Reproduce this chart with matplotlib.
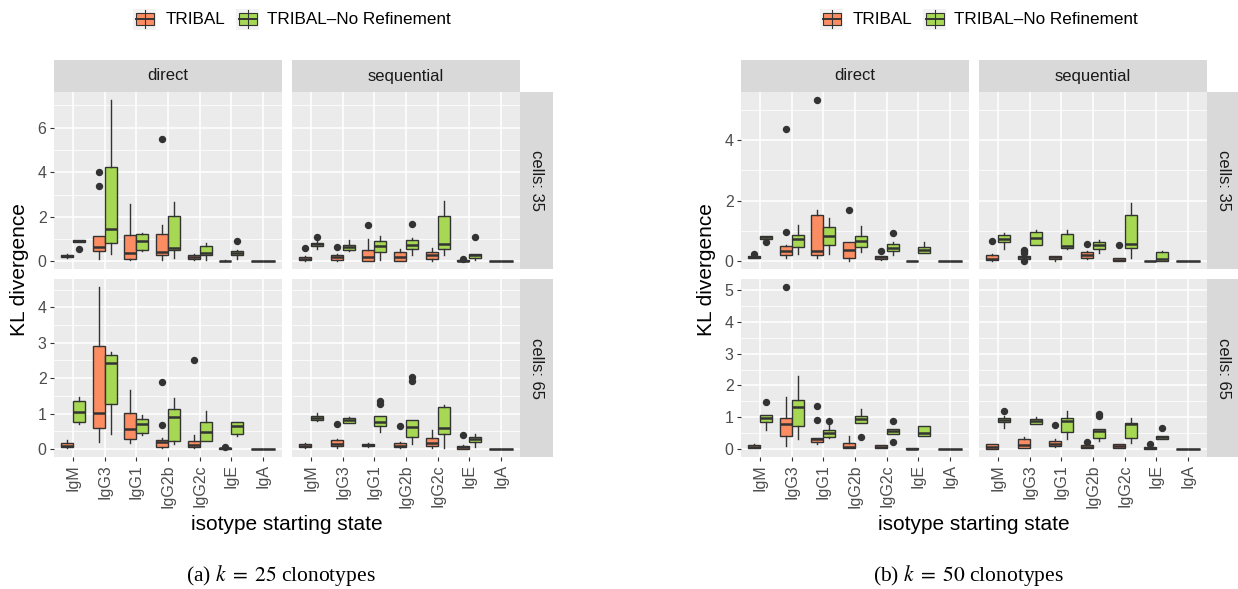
import matplotlib
matplotlib.use("Agg")
import matplotlib.pyplot as plt
from matplotlib.patches import Rectangle
from matplotlib.ticker import MultipleLocator, NullLocator, FixedLocator

plt.rcParams["font.family"] = ["Liberation Sans", "DejaVu Sans"]
plt.rcParams["mathtext.fontset"] = "stix"

W, H = 1238, 589
ORANGE = "#FC8D62"
GREEN = "#A6D854"
EDGE = "#333333"

isotypes = ["IgM", "IgG3", "IgG1", "IgG2b", "IgG2c", "IgE", "IgA"]
methods = ["TRIBAL", "TRIBAL\u2013No Refinement"]

# each entry: (whisker low, q1, median, q3, whisker high, [outliers])
# ---- k = 25 clonotypes ----
k25_d35_tribal = [(0.15, 0.2, 0.25, 0.3, 0.35, []), (0.12, 0.45, 0.65, 1.14, 1.14, [3.40, 4.02]),
                  (0.05, 0.12, 0.39, 1.17, 2.56, []), (0.05, 0.27, 0.44, 1.25, 1.64, [5.5]),
                  (0.05, 0.09, 0.21, 0.29, 0.32, []), (0.0, 0.01, 0.02, 0.03, 0.05, []),
                  (0, 0, 0, 0, 0, [])]
k25_d35_norefine = [(0.88, 0.88, 0.92, 0.97, 0.98, [0.57]), (0.35, 0.84, 1.45, 4.22, 7.24, []),
                    (0.47, 0.51, 0.92, 1.22, 1.28, []), (0.17, 0.51, 0.59, 2.02, 2.65, []),
                    (0.08, 0.29, 0.39, 0.71, 0.83, []), (0.09, 0.29, 0.38, 0.47, 0.51, [0.93]),
                    (0, 0, 0, 0, 0, [])]
k25_s35_tribal = [(0.03, 0.05, 0.12, 0.2, 0.25, [0.6]), (0.03, 0.05, 0.21, 0.3, 0.35, [0.63]),
                  (0.02, 0.02, 0.2, 0.53, 1.02, [1.64]), (0.02, 0.02, 0.2, 0.41, 0.57, []),
                  (0.02, 0.09, 0.3, 0.44, 0.59, []), (0.0, 0.0, 0.02, 0.06, 0.08, [0.12]),
                  (0, 0, 0, 0, 0, [])]
k25_s35_norefine = [(0.57, 0.68, 0.77, 0.84, 0.9, [1.08]), (0.47, 0.5, 0.65, 0.75, 0.98, []),
                    (0.05, 0.42, 0.68, 0.92, 1.13, []), (0.3, 0.54, 0.72, 0.95, 1.07, [1.66]),
                    (0.3, 0.57, 0.8, 2.02, 2.71, []), (0.05, 0.14, 0.27, 0.35, 0.35, [1.1]),
                    (0, 0, 0, 0, 0, [])]
k25_d65_tribal = [(0.02, 0.04, 0.09, 0.18, 0.26, []), (0.19, 0.59, 1.02, 2.91, 4.57, []),
                  (0.17, 0.27, 0.56, 1.01, 1.66, []), (0.02, 0.05, 0.19, 0.26, 0.3, [0.68, 1.89]),
                  (0.02, 0.05, 0.11, 0.22, 0.38, [2.5]), (0.0, 0.01, 0.02, 0.03, 0.04, [0.05]),
                  (0, 0, 0, 0, 0, [])]
k25_d65_norefine = [(0.71, 0.76, 1.04, 1.34, 1.48, []), (0.43, 1.28, 2.42, 2.64, 2.73, []),
                    (0.39, 0.45, 0.69, 0.85, 0.97, []), (0.14, 0.21, 0.9, 1.13, 1.44, []),
                    (0.22, 0.22, 0.47, 0.77, 1.07, []), (0.36, 0.41, 0.64, 0.77, 0.77, []),
                    (0, 0, 0, 0, 0, [])]
k25_s65_tribal = [(0.03, 0.05, 0.09, 0.14, 0.16, []), (0.02, 0.09, 0.15, 0.24, 0.27, [0.7]),
                  (0.06, 0.08, 0.11, 0.15, 0.16, []), (0.02, 0.05, 0.09, 0.16, 0.19, [0.64]),
                  (0.02, 0.08, 0.17, 0.32, 0.52, []), (0.0, 0.0, 0.05, 0.09, 0.1, [0.4]),
                  (0, 0, 0, 0, 0, [])]
k25_s65_norefine = [(0.78, 0.82, 0.87, 0.93, 1.02, []), (0.72, 0.73, 0.81, 0.87, 0.89, []),
                    (0.47, 0.65, 0.76, 0.92, 0.92, [1.28, 1.34]), (0.14, 0.35, 0.62, 0.82, 0.82, [1.92, 2.02]),
                    (0.02, 0.41, 0.6, 1.17, 1.25, []), (0.05, 0.19, 0.27, 0.35, 0.42, []),
                    (0, 0, 0, 0, 0, [])]

# ---- k = 50 clonotypes ----
k50_d35_tribal = [(0.1, 0.11, 0.14, 0.18, 0.2, [0.23]), (0.11, 0.2, 0.34, 0.51, 0.55, [0.97, 4.37]),
                  (0.12, 0.2, 0.35, 1.54, 1.71, [5.32]), (0.02, 0.12, 0.39, 0.64, 0.64, [1.69]),
                  (0.06, 0.08, 0.14, 0.19, 0.19, [0.35]), (0.0, 0.01, 0.01, 0.02, 0.02, []),
                  (0, 0, 0, 0, 0, [])]
k50_d35_norefine = [(0.72, 0.74, 0.8, 0.85, 0.85, [0.64]), (0.23, 0.47, 0.73, 0.86, 1.21, []),
                    (0.23, 0.55, 0.85, 1.12, 1.44, []), (0.31, 0.47, 0.66, 0.83, 1.18, []),
                    (0.21, 0.34, 0.45, 0.58, 0.65, [0.93]), (0.28, 0.28, 0.39, 0.46, 0.63, []),
                    (0, 0, 0, 0, 0, [])]
k50_s35_tribal = [(0.03, 0.06, 0.09, 0.22, 0.25, [0.67]), (0.06, 0.08, 0.14, 0.19, 0.22, [0.0, 0.28, 0.33, 0.39]),
                  (0.01, 0.08, 0.13, 0.19, 0.19, []), (0.08, 0.11, 0.22, 0.3, 0.34, [0.56]),
                  (0.0, 0.0, 0.06, 0.1, 0.1, [0.55]), (0.0, 0.0, 0.01, 0.02, 0.02, []),
                  (0, 0, 0, 0, 0, [])]
k50_s35_norefine = [(0.42, 0.64, 0.75, 0.86, 0.94, []), (0.54, 0.54, 0.77, 0.98, 1.05, []),
                    (0.41, 0.45, 0.52, 0.9, 1.02, []), (0.28, 0.4, 0.53, 0.65, 0.72, []),
                    (0.11, 0.43, 0.56, 1.53, 1.93, []), (0.01, 0.01, 0.09, 0.32, 0.35, []),
                    (0, 0, 0, 0, 0, [])]
k50_d65_tribal = [(0.03, 0.03, 0.07, 0.12, 0.16, []), (0.08, 0.41, 0.77, 0.98, 1.65, [5.1]),
                  (0.16, 0.23, 0.3, 0.35, 0.35, [0.91, 1.35]), (0.02, 0.02, 0.07, 0.2, 0.4, []),
                  (0.02, 0.03, 0.07, 0.12, 0.12, []), (0.0, 0.0, 0.01, 0.02, 0.02, []),
                  (0, 0, 0, 0, 0, [])]
k50_d65_norefine = [(0.61, 0.85, 0.98, 1.08, 1.08, [1.49]), (0.3, 0.71, 1.33, 1.53, 2.29, []),
                    (0.34, 0.36, 0.51, 0.59, 0.74, [0.88]), (0.82, 0.82, 0.93, 1.05, 1.27, [0.38]),
                    (0.48, 0.48, 0.56, 0.63, 0.63, [0.21, 0.87]), (0.41, 0.41, 0.49, 0.71, 0.71, []),
                    (0, 0, 0, 0, 0, [])]
k50_s65_tribal = [(0.01, 0.01, 0.07, 0.15, 0.15, []), (0.03, 0.03, 0.12, 0.3, 0.38, []),
                  (0.06, 0.1, 0.17, 0.24, 0.32, [0.76]), (0.02, 0.03, 0.07, 0.12, 0.12, [0.21]),
                  (0.02, 0.04, 0.1, 0.14, 0.14, []), (0.0, 0.0, 0.03, 0.06, 0.06, [0.16]),
                  (0, 0, 0, 0, 0, [])]
k50_s65_norefine = [(0.67, 0.84, 0.9, 0.98, 1.05, [1.18]), (0.79, 0.79, 0.88, 0.95, 0.99, []),
                    (0.32, 0.54, 0.89, 0.97, 1.21, []), (0.25, 0.33, 0.56, 0.62, 0.62, [1.04, 1.1]),
                    (0.19, 0.34, 0.79, 0.82, 0.97, []), (0.31, 0.31, 0.37, 0.42, 0.42, [0.67]),
                    (0, 0, 0, 0, 0, [])]

fig = plt.figure(figsize=(W / 100, H / 100), dpi=100)


def px_axes(x0, y0, x1, y1):
    return fig.add_axes([x0 / W, 1 - y1 / H, (x1 - x0) / W, (y1 - y0) / H])


def to_stats(rows):
    return [dict(whislo=r[0], q1=r[1], med=r[2], q3=r[3], whishi=r[4], fliers=r[5]) for r in rows]


def row_max(*panels):
    return max(max([r[4]] + list(r[5])) for p in panels for r in p)


def draw_panel(ax, tribal, norefine, ylim, step, show_x, show_y):
    ax.set_facecolor("#EBEBEB")
    for s in ax.spines.values():
        s.set_visible(False)
    n = len(isotypes)
    for data, color, off in [(tribal, ORANGE, -0.1875), (norefine, GREEN, 0.1875)]:
        ax.bxp(to_stats(data), positions=[i + 1 + off for i in range(n)], widths=0.375,
               patch_artist=True, showcaps=False, manage_ticks=False,
               boxprops=dict(facecolor=color, edgecolor=EDGE, linewidth=1.0),
               medianprops=dict(color=EDGE, linewidth=1.8, solid_capstyle="butt"),
               whiskerprops=dict(color=EDGE, linewidth=1.0),
               flierprops=dict(marker="o", markerfacecolor=EDGE, markeredgecolor=EDGE,
                               markersize=4.3))
    ax.set_xlim(0.4, n + 0.6)
    ax.set_ylim(*ylim)
    ax.xaxis.set_major_locator(FixedLocator(range(1, n + 1)))
    ax.xaxis.set_minor_locator(NullLocator())
    ax.yaxis.set_major_locator(MultipleLocator(step))
    ax.yaxis.set_minor_locator(MultipleLocator(step / 2))
    ax.set_axisbelow(True)
    ax.grid(which="major", color="white", linewidth=1.1)
    ax.grid(which="minor", axis="y", color="white", linewidth=0.55)
    ax.tick_params(which="minor", length=0)
    ax.tick_params(which="major", length=3.2, width=0.8, color=EDGE, pad=2.2,
                   labelsize=11.5, labelcolor="#4D4D4D")
    if show_x:
        ax.set_xticklabels(isotypes, rotation=90)
    else:
        ax.tick_params(axis="x", length=0, labelbottom=False)
    if show_y:
        ax.yaxis.set_major_formatter(plt.FuncFormatter(lambda v, p: f"{v:g}"))
    else:
        ax.tick_params(axis="y", length=0, labelleft=False)


def strip(x0, y0, x1, y1, label, rot=0):
    ax = px_axes(x0, y0, x1, y1)
    ax.set_facecolor("#D9D9D9")
    ax.set_xticks([])
    ax.set_yticks([])
    for s in ax.spines.values():
        s.set_visible(False)
    ax.text(0.5, 0.5, label, ha="center", va="center", rotation=rot,
            fontsize=12, color="#1A1A1A", transform=ax.transAxes)


def expand(lo, hi):
    d = (hi - lo) * 0.05
    return (lo - d, hi + d)


figures = [
    (0, r"(a) $k\;=\;25$ clonotypes",
     [[k25_d35_tribal, k25_d35_norefine, k25_s35_tribal, k25_s35_norefine],
      [k25_d65_tribal, k25_d65_norefine, k25_s65_tribal, k25_s65_norefine]], [2, 1]),
    (687, r"(b) $k\;=\;50$ clonotypes",
     [[k50_d35_tribal, k50_d35_norefine, k50_s35_tribal, k50_s35_norefine],
      [k50_d65_tribal, k50_d65_norefine, k50_s65_tribal, k50_s65_norefine]], [2, 1]),
]

cols = [(54, 282), (292, 520)]
rows = [(92, 269.5), (279, 457)]
col_labels = ["direct", "sequential"]
row_labels = ["cells: 35", "cells: 65"]

overlay = fig.add_axes([0, 0, 1, 1], zorder=-1)
overlay.set_xlim(0, W)
overlay.set_ylim(H, 0)
overlay.axis("off")

for ox, caption, grid, steps in figures:
    for r, (y0, y1) in enumerate(rows):
        panels = grid[r]
        ylim = expand(0, row_max(*panels))
        for c, (x0, x1) in enumerate(cols):
            ax = px_axes(x0 + ox, y0, x1 + ox, y1)
            draw_panel(ax, panels[2 * c], panels[2 * c + 1], ylim, steps[r],
                       show_x=(r == 1), show_y=(c == 0))
        strip(520 + ox, y0, 553 + ox, y1, row_labels[r], rot=-90)
    for c, (x0, x1) in enumerate(cols):
        strip(x0 + ox, 60, x1 + ox, 92, col_labels[c])

    fig.text((287 + ox) / W, 1 - 524 / H, "isotype starting state",
             ha="center", va="center", fontsize=15)
    fig.text((20 + ox) / W, 1 - 270 / H, "KL divergence", ha="center", va="center",
             rotation=90, fontsize=15)
    fig.text((281 + ox) / W, 1 - 576 / H, caption, ha="center", va="center",
             fontsize=15.5, family="Liberation Serif")

    # legend
    for kx, tx, color, label in [(134, 167, ORANGE, methods[0]), (237, 268, GREEN, methods[1])]:
        kx += ox - 1
        tx += ox - 1
        overlay.add_patch(Rectangle((kx, 8.5), 23, 21, facecolor="#F2F2F2", edgecolor="none"))
        overlay.plot([kx + 11.5, kx + 11.5], [10, 28], color=EDGE, lw=0.8)
        overlay.add_patch(Rectangle((kx + 2.5, 13), 18, 12, facecolor=color, edgecolor=EDGE, lw=0.8))
        overlay.plot([kx + 2.5, kx + 20.5], [19, 19], color=EDGE, lw=1.4)
        overlay.text(tx, 19, label, ha="left", va="center", fontsize=12.3, color="black")

fig.savefig("out.png", dpi=100)
